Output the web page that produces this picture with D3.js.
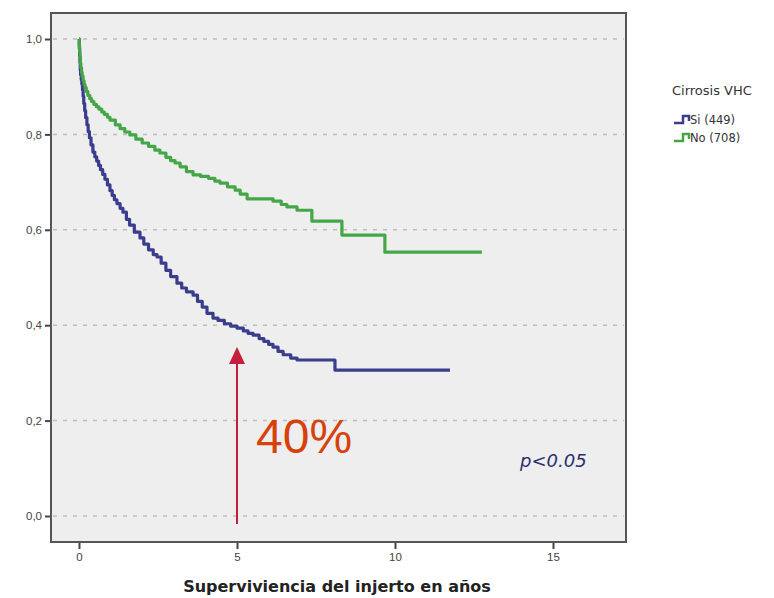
<!DOCTYPE html>
<html>
<head>
<meta charset="utf-8">
<script src="https://cdn.jsdelivr.net/npm/d3@7"></script>
<style>
  body { margin: 0; background: #fff; }
  text { font-family: "Liberation Sans", Arial, sans-serif; }
</style>
</head>
<body>
<div id="chart"></div>
<script>
// survival curves (years, proportion)
var siYears = [0, 0.01, 0.02, 0.03, 0.04, 0.05, 0.07, 0.09, 0.11, 0.13, 0.15, 0.18, 0.21, 0.25, 0.29, 0.33, 0.38, 0.44, 0.5, 0.56, 0.62, 0.68, 0.75, 0.82, 0.9, 0.98, 1.05, 1.12, 1.2, 1.3, 1.39, 1.5, 1.6, 1.75, 1.93, 2.05, 2.2, 2.35, 2.47, 2.6, 2.75, 2.9, 3.1, 3.25, 3.4, 3.61, 3.75, 3.9, 4.05, 4.24, 4.4, 4.6, 4.8, 5.0, 5.2, 5.35, 5.51, 5.7, 5.85, 6.0, 6.14, 6.3, 6.46, 6.7, 6.9, 8.1, 11.74];
var siSurv  = [1.0, 0.98, 0.965, 0.95, 0.935, 0.925, 0.915, 0.905, 0.893, 0.88, 0.865, 0.85, 0.835, 0.82, 0.806, 0.793, 0.778, 0.763, 0.753, 0.744, 0.735, 0.726, 0.716, 0.706, 0.694, 0.682, 0.672, 0.663, 0.655, 0.645, 0.637, 0.622, 0.61, 0.595, 0.583, 0.57, 0.558, 0.548, 0.543, 0.53, 0.515, 0.502, 0.488, 0.478, 0.47, 0.463, 0.45, 0.438, 0.425, 0.415, 0.41, 0.403, 0.398, 0.394, 0.388, 0.383, 0.379, 0.372, 0.366, 0.36, 0.354, 0.345, 0.338, 0.331, 0.327, 0.306, 0.306];

var noYears = [0, 0.01, 0.02, 0.03, 0.045, 0.06, 0.08, 0.1, 0.13, 0.16, 0.19, 0.23, 0.28, 0.34, 0.4, 0.47, 0.55, 0.63, 0.72, 0.8, 0.9, 0.98, 1.15, 1.3, 1.45, 1.61, 1.8, 2.0, 2.2, 2.4, 2.56, 2.75, 2.9, 3.04, 3.2, 3.4, 3.61, 3.85, 4.1, 4.3, 4.46, 4.7, 4.94, 5.1, 5.32, 6.14, 6.4, 6.58, 6.9, 7.37, 8.32, 9.68, 12.75];
var noSurv  = [1.0, 0.985, 0.972, 0.96, 0.948, 0.94, 0.93, 0.922, 0.913, 0.905, 0.898, 0.89, 0.882, 0.875, 0.869, 0.863, 0.858, 0.853, 0.847, 0.842, 0.836, 0.83, 0.82, 0.812, 0.805, 0.799, 0.79, 0.782, 0.775, 0.767, 0.761, 0.752, 0.745, 0.74, 0.732, 0.722, 0.715, 0.712, 0.708, 0.702, 0.698, 0.69, 0.683, 0.675, 0.665, 0.66, 0.653, 0.648, 0.641, 0.618, 0.589, 0.553, 0.553];

var groups = ["Si (449)", "No (708)"];
var groupColors = ["#393d8c", "#44a646"];

var xTicks = [0, 5, 10, 15];
var yTicks = [0, 0.2, 0.4, 0.6, 0.8, 1.0];

var width = 774, height = 598;

var svg = d3.select("#chart").append("svg")
    .attr("width", width)
    .attr("height", height);

// frame of the plot area
var frame = {left: 51, top: 13, right: 626, bottom: 542};

var x = d3.scaleLinear().domain([0, 5]).range([79, 237]);
var y = d3.scaleLinear().domain([0, 1]).range([516, 39]);

svg.append("rect")
    .attr("x", frame.left).attr("y", frame.top)
    .attr("width", frame.right - frame.left)
    .attr("height", frame.bottom - frame.top)
    .attr("fill", "#eeeeee");

// dashed gridlines
svg.append("g").selectAll("line")
    .data(yTicks)
    .enter().append("line")
    .attr("x1", frame.left + 2).attr("x2", frame.right - 2)
    .attr("y1", function(d) { return y(d); })
    .attr("y2", function(d) { return y(d); })
    .attr("stroke", "#bdbdbd")
    .attr("stroke-width", 1.5)
    .attr("stroke-dasharray", "4,6");

// Y axis
var yAxis = svg.append("g")
    .attr("transform", "translate(" + frame.left + ",0)")
    .call(d3.axisLeft(y).tickValues(yTicks).tickSize(6).tickPadding(3)
        .tickFormat(function(d) { return d3.format(".1f")(d).replace(".", ","); }));
yAxis.select(".domain").remove();
yAxis.selectAll(".tick line").attr("stroke", "#444").attr("stroke-width", 2);
yAxis.selectAll(".tick text").attr("fill", "#444").style("font-size", "11.5px");

// X axis
var xAxis = svg.append("g")
    .attr("transform", "translate(0," + frame.bottom + ")")
    .call(d3.axisBottom(x).tickValues(xTicks).tickSize(7).tickPadding(4)
        .tickFormat(d3.format("d")));
xAxis.select(".domain").remove();
xAxis.selectAll(".tick line").attr("stroke", "#444").attr("stroke-width", 2);
xAxis.selectAll(".tick text").attr("fill", "#444").style("font-size", "11.5px");

svg.append("text")
    .attr("x", 337).attr("y", 592)
    .attr("text-anchor", "middle")
    .style("font-family", "'DejaVu Sans', sans-serif")
    .style("font-size", "16px")
    .style("font-weight", "bold")
    .attr("fill", "#222")
    .text("Superviviencia del injerto en años");

// frame border
svg.append("rect")
    .attr("x", frame.left).attr("y", frame.top)
    .attr("width", frame.right - frame.left)
    .attr("height", frame.bottom - frame.top)
    .attr("fill", "none")
    .attr("stroke", "#555")
    .attr("stroke-width", 2);

// curves
var line = d3.line()
    .x(function(d) { return x(d[0]); })
    .y(function(d) { return y(d[1]); })
    .curve(d3.curveStepAfter);

var series = [d3.zip(siYears, siSurv), d3.zip(noYears, noSurv)];

svg.append("g").selectAll("path")
    .data(series)
    .enter().append("path")
    .attr("d", line)
    .attr("fill", "none")
    .attr("stroke", function(d, i) { return groupColors[i]; })
    .attr("stroke-width", 3.2)
    .attr("stroke-linejoin", "round");

// legend
svg.append("text")
    .attr("x", 672).attr("y", 95)
    .style("font-family", "'DejaVu Sans', sans-serif")
    .style("font-size", "13px")
    .attr("fill", "#333")
    .text("Cirrosis VHC");

var legend = svg.selectAll(".legend")
    .data(groups)
    .enter().append("g")
    .attr("class", "legend")
    .attr("transform", function(d, i) { return "translate(674," + (120 + i * 18) + ")"; });

legend.append("path")
    .attr("d", "M0,3H9V-4H15V1")
    .attr("fill", "none")
    .attr("stroke", function(d, i) { return groupColors[i]; })
    .attr("stroke-width", 2.5);

legend.append("text")
    .attr("x", 16).attr("y", 4)
    .style("font-family", "'DejaVu Sans', sans-serif")
    .style("font-size", "11.5px")
    .attr("fill", "#333")
    .text(function(d) { return d; });

// annotation: arrow at 5 years
var arrowX = x(5);
svg.append("line")
    .attr("x1", arrowX).attr("x2", arrowX)
    .attr("y1", 524).attr("y2", 362)
    .attr("stroke", "#c41e3a")
    .attr("stroke-width", 2);
svg.append("path")
    .attr("d", "M" + arrowX + ",347L" + (arrowX - 8) + ",364L" + (arrowX + 8) + ",364Z")
    .attr("fill", "#c41e3a");

svg.append("text")
    .attr("x", 256).attr("y", 453)
    .style("font-size", "48px")
    .attr("fill", "#d5420c")
    .text("40%");

svg.append("text")
    .attr("x", 520).attr("y", 467)
    .style("font-family", "'DejaVu Sans', sans-serif")
    .style("font-size", "18px")
    .style("font-style", "italic")
    .attr("fill", "#2b2f70")
    .text("p<0.05");
</script>
</body>
</html>
